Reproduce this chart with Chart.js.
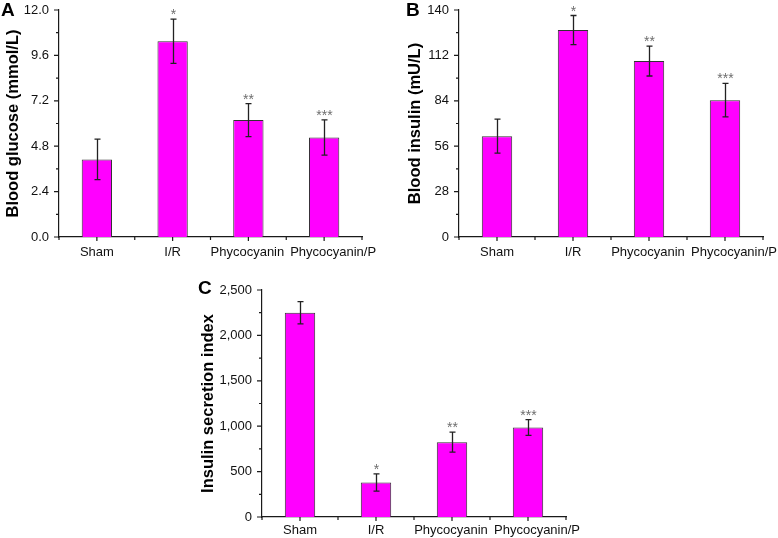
<!DOCTYPE html>
<html>
<head>
<meta charset="utf-8">
<script src="https://cdn.jsdelivr.net/npm/chart.js@4/dist/chart.umd.min.js"></script>
<style>
  html, body { margin: 0; padding: 0; background: #fff; }
  body { width: 778px; height: 538px; position: relative; overflow: hidden; }
  canvas { position: absolute; }
</style>
</head>
<body>
<canvas id="cA" width="390" height="268" style="left:0px;top:0px;"></canvas>
<canvas id="cB" width="388" height="268" style="left:390px;top:0px;"></canvas>
<canvas id="cC" width="420" height="268" style="left:180px;top:270px;"></canvas>
<script>
// ---- data ----
const categories = ['Sham', 'I/R', 'Phycocyanin', 'Phycocyanin/P'];
const significance = ['', '*', '**', '***'];

const glucoseMean = [4.1, 10.35, 6.18, 5.26];
const glucoseErr  = [1.07, 1.17, 0.87, 0.93];
const glucoseTicks = { min: 0, max: 12, step: 2.4 };

const insulinMean = [62.2, 127.6, 108.5, 84.4];
const insulinErr  = [10.5, 9.0, 9.2, 10.3];
const insulinTicks = { min: 0, max: 140, step: 28 };

const indexMean = [2250, 379, 824, 985];
const indexErr  = [123, 95, 110, 87];
const indexTicks = { min: 0, max: 2500, step: 500 };

// ---- style ----
const FONT = "'Liberation Sans', Arial, Helvetica, sans-serif";
const BAR_FILL = '#FF00FF';
const BAR_EDGE = '#333333';
const AXIS = '#1a1a1a';
const LABEL_SHIFT = [0, 0, -1, 9];   // horizontal nudges of the category labels (px)

function commas(v) { return String(v).replace(/\B(?=(\d{3})+(?!\d))/g, ','); }

function panelPlugin(opts, stars) {
  return {
    id: 'panelDecor',
    afterDatasetsDraw(chart) {
      const ctx = chart.ctx;
      const ys = chart.scales.y;
      const meta = chart.getDatasetMeta(0);
      const vals = chart.data.datasets[0].data;
      const errs = opts.errs;
      ctx.save();
      ctx.strokeStyle = '#222';
      ctx.lineWidth = 1.3;
      meta.data.forEach((bar, i) => {
        const cx = Math.round(bar.x) + 0.5;
        const t = ys.getPixelForValue(vals[i] + errs[i]);
        const b = ys.getPixelForValue(vals[i] - errs[i]);
        ctx.beginPath();
        ctx.moveTo(cx, t); ctx.lineTo(cx, b);
        ctx.moveTo(cx - 3, t); ctx.lineTo(cx + 3, t);
        ctx.moveTo(cx - 3, b); ctx.lineTo(cx + 3, b);
        ctx.stroke();
        if (stars[i]) {
          ctx.fillStyle = '#6e6e6e';
          ctx.font = '14px ' + FONT;
          ctx.textAlign = 'center';
          ctx.textBaseline = 'alphabetic';
          ctx.fillText(stars[i], cx, t);
        }
      });
      ctx.restore();
    },
    afterDraw(chart) {
      const ctx = chart.ctx;
      const xs = chart.scales.x, ys = chart.scales.y;
      const area = chart.chartArea;
      ctx.save();
      ctx.strokeStyle = AXIS;
      ctx.lineWidth = 1.2;
      ctx.beginPath();
      const tv = ys.ticks.map(t => t.value);
      tv.forEach((v, k) => {
        const py = ys.getPixelForValue(v);
        ctx.moveTo(area.left, py); ctx.lineTo(area.left - 5, py);
        if (k < tv.length - 1) {
          const pm = ys.getPixelForValue((v + tv[k + 1]) / 2);
          ctx.moveTo(area.left, pm); ctx.lineTo(area.left - 3, pm);
        }
      });
      const labels = chart.data.labels;
      const n = labels.length;
      for (let i = 0; i < n; i++) {
        const px = xs.getPixelForValue(i);
        ctx.moveTo(px, area.bottom); ctx.lineTo(px, area.bottom + 4);
      }
      for (let i = 0; i <= n; i++) {
        const px = xs.getPixelForValue(i - 0.5);
        ctx.moveTo(px, area.bottom); ctx.lineTo(px, area.bottom + 3);
      }
      ctx.stroke();
      // category labels
      ctx.fillStyle = '#111';
      ctx.font = '13px ' + FONT;
      ctx.textAlign = 'center';
      ctx.textBaseline = 'alphabetic';
      for (let i = 0; i < n; i++) {
        ctx.fillText(labels[i], xs.getPixelForValue(i) + LABEL_SHIFT[i], area.bottom + opts.labelDy);
      }
      // panel letter
      ctx.fillStyle = '#000';
      ctx.font = 'bold 19px ' + FONT;
      ctx.textAlign = 'left';
      ctx.fillText(opts.letter, opts.lx, opts.ly);
      ctx.restore();
    }
  };
}

function zeroPad(s) { s.paddingTop = 0; s.paddingBottom = 0; s.paddingLeft = 0; s.paddingRight = 0; }

function makeChart(id, opts) {
  return new Chart(document.getElementById(id), {
    type: 'bar',
    data: {
      labels: categories,
      datasets: [{
        data: opts.values,
        backgroundColor: BAR_FILL,
        borderColor: BAR_EDGE,
        borderWidth: 1,
        categoryPercentage: 1.0,
        barPercentage: 0.4
      }]
    },
    options: {
      responsive: false,
      animation: false,
      events: [],
      layout: { padding: { top: opts.padTop, right: opts.padRight, left: 0, bottom: 0 } },
      plugins: { legend: { display: false }, tooltip: { enabled: false }, title: { display: false } },
      scales: {
        x: {
          type: 'category',
          offset: true,
          grid: { display: false, drawTicks: false },
          border: { display: true, color: AXIS, width: 1.2 },
          ticks: { display: false },
          afterFit(s) { s.height = opts.xHeight; zeroPad(s); }
        },
        y: {
          min: opts.ticks.min,
          max: opts.ticks.max,
          grid: { display: false, drawTicks: false },
          border: { display: true, color: AXIS, width: 1.2 },
          ticks: {
            stepSize: opts.ticks.step,
            color: '#111',
            font: { family: FONT, size: 13 },
            padding: 10,
            callback: opts.fmt
          },
          title: {
            display: true,
            text: opts.title,
            color: '#000',
            font: { family: FONT, size: 16.5, weight: 'bold' },
            padding: { top: opts.titlePad, bottom: 0 }
          },
          afterFit(s) { s.width = opts.yWidth; zeroPad(s); }
        }
      }
    },
    plugins: [panelPlugin(opts, significance)]
  });
}

makeChart('cA', {
  values: glucoseMean, errs: glucoseErr, ticks: glucoseTicks,
  fmt: v => Number(v).toFixed(1),
  title: 'Blood glucose (mmol/L)', letter: 'A', lx: 1, ly: 16,
  padTop: 10, padRight: 28, xHeight: 31, yWidth: 59, titlePad: 4, labelDy: 18.5
});
makeChart('cB', {
  values: insulinMean, errs: insulinErr, ticks: insulinTicks,
  fmt: v => String(Math.round(v)),
  title: 'Blood insulin (mU/L)', letter: 'B', lx: 16, ly: 16,
  padTop: 10, padRight: 15, xHeight: 31, yWidth: 69, titlePad: 16, labelDy: 18.5
});
makeChart('cC', {
  values: indexMean, errs: indexErr, ticks: indexTicks,
  fmt: v => commas(Math.round(v)),
  title: 'Insulin secretion index', letter: 'C', lx: 18, ly: 24,
  padTop: 20, padRight: 34, xHeight: 21, yWidth: 82, titlePad: 19, labelDy: 16.5
});
</script>
</body>
</html>
